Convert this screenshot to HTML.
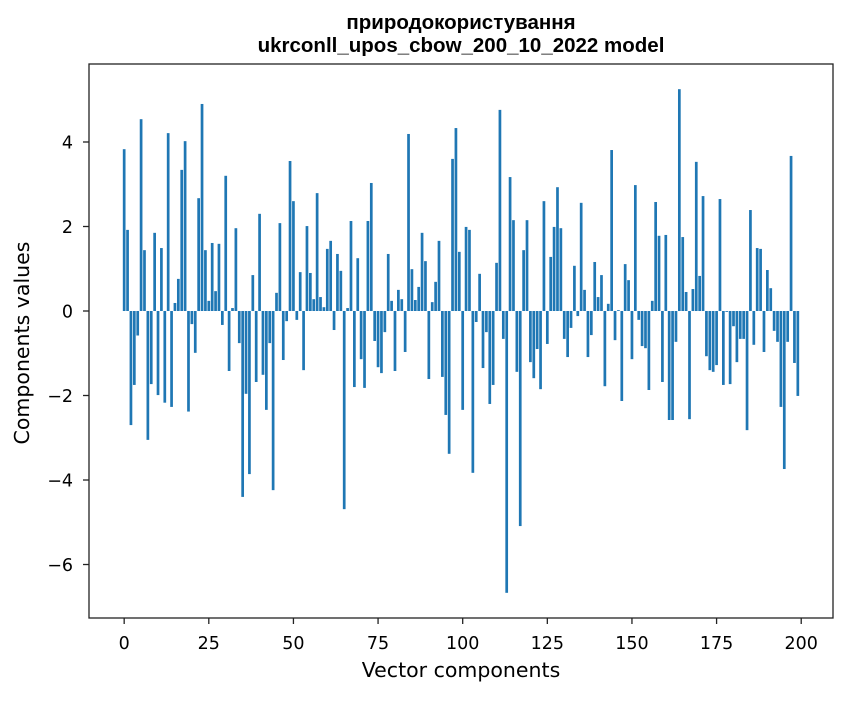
<!DOCTYPE html>
<html><head><meta charset="utf-8"><style>
body{margin:0;background:#fff}
svg text{font-family:"DejaVu Sans","Liberation Sans",sans-serif;fill:#000}
</style></head><body>
<svg id="chart" width="847" height="696" xmlns="http://www.w3.org/2000/svg">
<rect width="847" height="696" fill="#fff"/>
<text x="461" y="29" text-anchor="middle" font-size="20.5" font-weight="bold" style="font-family:'Liberation Sans',sans-serif">природокористування</text>
<text x="461" y="52" text-anchor="middle" font-size="20.5" font-weight="bold" style="font-family:'Liberation Sans',sans-serif">ukrconll_upos_cbow_200_10_2022 model</text>
<g id="bars"></g>
<g id="axes"></g>
<rect x="89" y="64" width="744" height="554" fill="none" stroke="#222" stroke-width="1.3"/>
<text x="461" y="677" text-anchor="middle" font-size="20.5">Vector components</text>
<text transform="translate(29,343) rotate(-90)" text-anchor="middle" font-size="20.5">Components values</text>
</svg>
<script>
const values = [3.83,1.92,-2.70,-1.75,-0.58,4.54,1.44,-3.05,-1.73,1.85,-1.99,1.49,-2.17,4.21,-2.27,0.19,0.76,3.34,4.02,-2.38,
-0.31,-0.99,2.67,4.90,1.44,0.24,1.61,0.47,1.59,-0.33,3.20,-1.42,0.07,1.96,-0.76,-4.40,-1.96,-3.86,0.85,-1.68,
2.30,-1.51,-2.34,-0.76,-4.24,0.43,2.08,-1.16,-0.24,3.55,2.60,-0.21,0.92,-1.40,2.01,0.90,0.28,2.79,0.33,0.09,
1.47,1.66,-0.45,1.35,0.95,-4.69,0.07,2.13,-1.80,1.25,-1.14,-1.82,2.13,3.03,-0.71,-1.33,-1.47,-0.50,1.35,0.24,
-1.42,0.50,0.28,-0.97,4.19,0.99,0.26,0.57,1.85,1.18,-1.61,0.21,0.69,1.66,-1.56,-2.46,-3.38,3.60,4.33,1.40,
-2.34,1.99,1.92,-3.83,-0.26,0.88,-1.35,-0.50,-2.20,-1.75,1.14,4.76,-0.66,-6.67,3.17,2.15,-1.44,-5.09,1.44,2.15,
-1.21,-1.59,-0.90,-1.85,2.60,-0.78,1.28,1.99,2.93,1.96,-0.66,-1.09,-0.40,1.07,-0.12,2.56,0.50,-1.09,-0.57,1.16,
0.33,0.85,-1.78,0.17,3.81,-0.69,0.02,-2.13,1.11,0.73,-1.14,2.98,-0.21,-0.83,-0.88,-1.87,0.24,2.58,1.78,-1.68,
1.80,-2.58,-2.58,-0.73,5.25,1.75,0.45,-2.56,0.52,3.53,0.83,2.72,-1.07,-1.40,-1.44,-1.28,2.65,-1.75,-0.02,-1.73,
-0.36,-1.21,-0.66,-0.66,-2.82,2.39,-0.80,1.49,1.47,-0.97,0.97,0.54,-0.47,-0.73,-2.27,-3.74,-0.73,3.67,-1.23,-2.01];
const xTicks = [0,25,50,75,100,125,150,175,200];
const yTicks = [-6,-4,-2,0,2,4];
const L=89,R=833,T=64,B=618;
const n=values.length;
const xmin=-0.4-(n-0.2)*0.05, xmax=n-1+0.4+(n-0.2)*0.05;
const vmax=Math.max(0,...values), vmin=Math.min(0,...values);
const ymax=vmax+(vmax-vmin)*0.05, ymin=vmin-(vmax-vmin)*0.05;
const X=v=>L+(v-xmin)/(xmax-xmin)*(R-L);
const Y=v=>B-(v-ymin)/(ymax-ymin)*(B-T);
const NS="http://www.w3.org/2000/svg";
const bars=document.getElementById('bars');
values.forEach((v,i)=>{
  const r=document.createElementNS(NS,'rect');
  const x0=X(i-0.4),x1=X(i+0.4);
  r.setAttribute('x',x0);r.setAttribute('width',x1-x0);
  r.setAttribute('y',Math.min(Y(v),Y(0)));r.setAttribute('height',Math.abs(Y(v)-Y(0)));
  r.setAttribute('fill','#1f77b4');
  
  
  bars.appendChild(r);
});
const axes=document.getElementById('axes');
xTicks.forEach(t=>{
  const l=document.createElementNS(NS,'line');
  l.setAttribute('x1',X(t));l.setAttribute('x2',X(t));l.setAttribute('y1',B);l.setAttribute('y2',B+6);l.setAttribute('stroke','#222');l.setAttribute('stroke-width','1.3');
  
  
  axes.appendChild(l);
  const tx=document.createElementNS(NS,'text');
  tx.setAttribute('x',X(t));tx.setAttribute('y',B+31);tx.setAttribute('text-anchor','middle');tx.setAttribute('font-size','17.5');
  tx.textContent=t;
  
  
  axes.appendChild(tx);
});
yTicks.forEach(t=>{
  const l=document.createElementNS(NS,'line');
  l.setAttribute('x1',L-6);l.setAttribute('x2',L);l.setAttribute('y1',Y(t));l.setAttribute('y2',Y(t));l.setAttribute('stroke','#222');l.setAttribute('stroke-width','1.3');
  
  
  axes.appendChild(l);
  const tx=document.createElementNS(NS,'text');
  tx.setAttribute('x',L-16);tx.setAttribute('y',Y(t)+6.5);tx.setAttribute('text-anchor','end');tx.setAttribute('font-size','17.5');
  tx.textContent=t<0?'\u2212'+Math.abs(t):t;
  
  
  axes.appendChild(tx);
});
</script>
</body></html>
